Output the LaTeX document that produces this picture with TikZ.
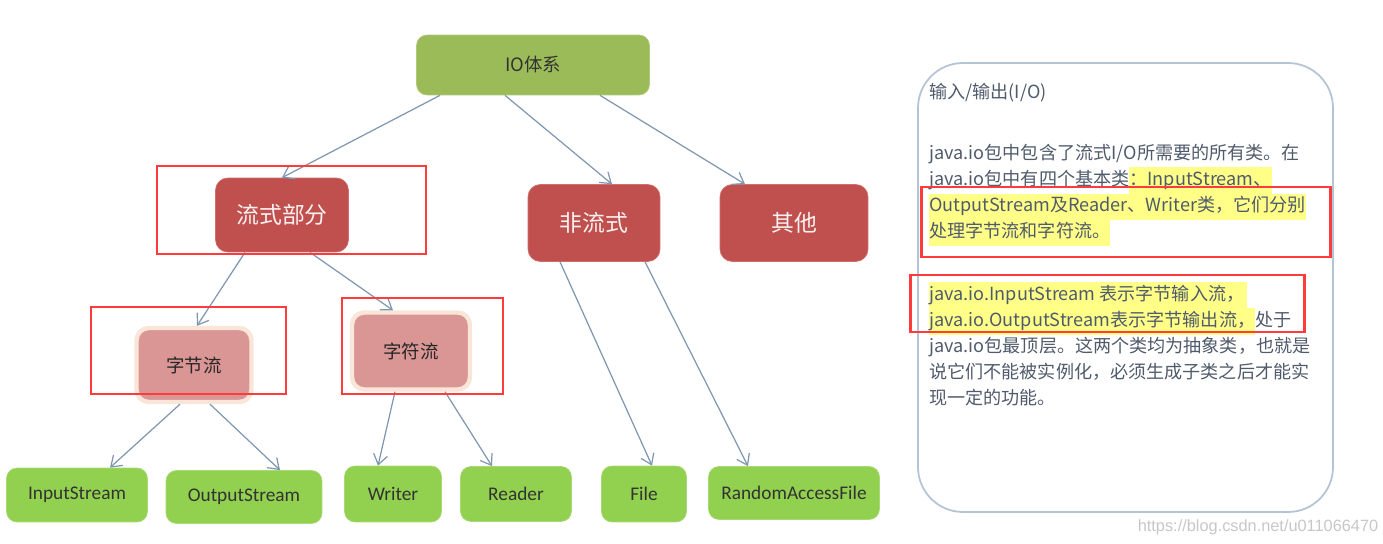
\documentclass[tikz,border=0pt]{standalone}
\usepackage{fontspec}
\usepackage{xcolor}
\usepackage{tikz}
\usetikzlibrary{arrows.meta}

\newfontfamily\cjk{Noto Sans CJK SC}
\newfontfamily\lab{Carlito}
\newfontfamily\wm{Liberation Sans}

\definecolor{iogreen}{HTML}{9BBB59}
\definecolor{leafgreen}{HTML}{92D050}
\definecolor{catred}{HTML}{C0504D}
\definecolor{kindpink}{HTML}{D99694}
\definecolor{kindglow}{HTML}{FAE6D8}
\definecolor{arrowblue}{HTML}{7F97B0}
\definecolor{framered}{HTML}{FF3B3B}
\definecolor{panelline}{HTML}{B5C3D6}
\definecolor{notegray}{HTML}{4F5A6B}
\definecolor{hlyellow}{HTML}{FFFF88}

\newcommand{\hlt}[1]{{\setlength{\fboxsep}{0pt}\colorbox{hlyellow}{\strut #1}}}

\begin{document}
\begin{tikzpicture}[x=0.02cm, y=-0.02cm,
        every node/.style={align=center, font=\cjk},
        iobox/.style={fill=iogreen, draw=iogreen!80!white, rounded corners=6pt,
                text=black!80, font=\cjk\fontsize{10.5}{12}\selectfont},
        catbox/.style={fill=catred, draw=catred!75!pink, rounded corners=7pt,
                text=catred!8!white, font=\cjk\fontsize{13}{15}\selectfont},
        kindbox/.style={fill=kindpink, draw=kindglow, line width=2.5pt, rounded corners=7pt,
                text=black!85, font=\cjk\fontsize{10.5}{12}\selectfont},
        leafbox/.style={fill=leafgreen, draw=leafgreen!80!white, rounded corners=6pt,
                text=black!80, font=\lab\fontsize{11}{13}\selectfont},
        link/.style={-{Straight Barb[length=2mm,width=2.8mm]}, draw=arrowblue, line width=0.7pt},
        redframe/.style={draw=framered, line width=1.7pt},
        panel/.style={draw=panelline, line width=1pt, rounded corners=0.9cm},
        note/.style={anchor=north west, align=left, inner sep=0pt, text=notegray,
                font=\cjk\fontsize{10.3}{14.85}\selectfont},
        wmark/.style={font=\wm\fontsize{9.3}{11}\selectfont, text=black!22}
        ]
        \useasboundingbox (0,0) rectangle (1383,544);

        % ---------------- Tree ----------------
        \node[iobox, minimum width=4.66cm, minimum height=1.2cm] (io) at (533,65) {IO体系};
        \node[catbox, minimum width=2.66cm, minimum height=1.48cm] (stream) at (282,215) {流式部分};
        \node[catbox, minimum width=2.64cm, minimum height=1.54cm] (nonstream) at (594,223) {非流式};
        \node[catbox, minimum width=2.96cm, minimum height=1.54cm] (other) at (794,223) {其他};

        \node[kindbox, minimum width=2.3cm, minimum height=1.48cm] (bytes) at (194,365) {字节流};
        \node[kindbox, minimum width=2.36cm, minimum height=1.54cm] (chars) at (411,351) {字符流};

        % ---------------- Leaves ----------------
        \node[leafbox, minimum width=2.82cm, minimum height=1.08cm] (instream) at (77,495) {InputStream};
        \node[leafbox, minimum width=3.12cm, minimum height=1.06cm] (outstream) at (244,497) {OutputStream};
        \node[leafbox, minimum width=1.94cm, minimum height=1.12cm] (writer) at (393,494) {Writer};
        \node[leafbox, minimum width=2.22cm, minimum height=1.1cm] (reader) at (516,494) {Reader};
        \node[leafbox, minimum width=1.7cm, minimum height=1.12cm] (file) at (644,494) {File};
        \node[leafbox, minimum width=3.42cm, minimum height=1.06cm] (raf) at (794,493) {RandomAccessFile};

        % ---------------- Arrows ----------------
        \draw[link] ([xshift=-1.86cm]io.south) -- (stream.north);
        \draw[link] ([xshift=-0.56cm]io.south) -- ([xshift=0.36cm]nonstream.north);
        \draw[link] ([xshift=1.34cm]io.south) -- ([xshift=-0.98cm]other.north);
        \draw[link] ([xshift=-0.74cm]stream.south) -- ([xshift=0.06cm]bytes.north);
        \draw[link] ([xshift=0.56cm]stream.south) -- ([xshift=-0.36cm]chars.north);
        \draw[link] ([xshift=-0.28cm]bytes.south) -- ([xshift=0.66cm]instream.north);
        \draw[link] ([xshift=0.32cm]bytes.south) -- ([xshift=0.72cm]outstream.north);
        \draw[link] ([xshift=-0.32cm]chars.south) -- ([xshift=-0.3cm]writer.north);
        \draw[link] ([xshift=0.68cm]chars.south) -- ([xshift=-0.48cm]reader.north);
        \draw[link] ([xshift=-0.68cm]nonstream.south) -- ([xshift=0.16cm]file.north);
        \draw[link] ([xshift=1.02cm]nonstream.south) -- ([xshift=-0.92cm]raf.north);

        % ---------------- Notes ----------------
        \draw[panel] (918,63) rectangle (1333,512);
        \node[note] (title) at (929,80) {\strut 输入/输出(I/O)};
        \node[note] (para1) at (929,141) {\strut java.io包中包含了流式I/O所需要的所有类。在\\
                \strut java.io包中有四个基本类\hlt{：InputStream、}\\
                \hlt{OutputStream及Reader、Writer类，它们分别}\\
                \hlt{处理字节流和字符流。}};
        \node[note] (para2) at (929,282) {\hlt{java.io.InputStream 表示字节输入流，\,}\\
                \hlt{java.io.OutputStream表示字节输出流，}处于\\
                \strut java.io包最顶层。这两个类均为抽象类，也就是\\
                \strut 说它们不能被实例化，必须生成子类之后才能实\\
                \strut 现一定的功能。};
        \node[wmark] (url) at (1258,527) {https://blog.csdn.net/u011066470};

        % ---------------- Red frames ----------------
        \draw[redframe] (157,166) rectangle (426,254);
        \draw[redframe] (91,307) rectangle (286,394);
        \draw[redframe] (342,298) rectangle (503,394);
        \draw[redframe] (921,187) rectangle (1330,257);
        \draw[redframe] (910,275) rectangle (1304,332);

    \end{tikzpicture}
\end{document}
